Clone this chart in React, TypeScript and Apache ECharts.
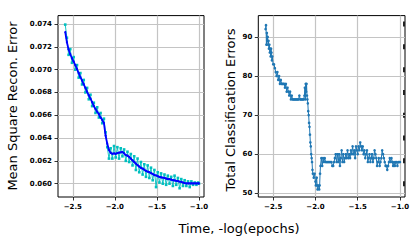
import React, { useEffect, useRef } from "react";
import * as echarts from "echarts";

const leftTime = [
  -2.59, -2.57, -2.55, -2.53, -2.51, -2.49, -2.47, -2.45, -2.43, -2.41,
  -2.39, -2.37, -2.35, -2.33, -2.31, -2.29, -2.27, -2.25, -2.23, -2.21,
  -2.19, -2.17, -2.15, -2.13, -2.11, -2.09, -2.07, -2.05, -2.03, -2.01,
  -1.99, -1.97, -1.95, -1.93, -1.91, -1.89, -1.87, -1.85, -1.83, -1.81,
  -1.79, -1.77, -1.75, -1.73, -1.71, -1.69, -1.67, -1.65, -1.63, -1.61,
  -1.59, -1.57, -1.55, -1.53, -1.51, -1.49, -1.47, -1.45, -1.43, -1.41,
  -1.39, -1.37, -1.35, -1.33, -1.31, -1.29, -1.27, -1.25, -1.23, -1.21,
  -1.19, -1.17, -1.15, -1.13, -1.11, -1.09, -1.07, -1.05, -1.03, -1.01, -1.0,
];

const reconSmooth = [
  0.0733, 0.0724, 0.07175, 0.07135, 0.071, 0.0707, 0.0704, 0.07005, 0.0697, 0.06935,
  0.06905, 0.0687, 0.0684, 0.06805, 0.06775, 0.06745, 0.06715, 0.0668, 0.06655, 0.0663,
  0.0661, 0.0658, 0.0656, 0.0653, 0.0642, 0.0635, 0.06295, 0.0627, 0.06262, 0.06265,
  0.06262, 0.06268, 0.06272, 0.06275, 0.06278, 0.06265, 0.0625, 0.06245, 0.06235, 0.0622,
  0.06205, 0.0619, 0.06175, 0.06162, 0.0615, 0.06138, 0.06132, 0.06122, 0.06112, 0.06105,
  0.061, 0.06092, 0.06085, 0.06075, 0.06072, 0.06065, 0.0606, 0.06055, 0.06053, 0.0605,
  0.06045, 0.0604, 0.0604, 0.06035, 0.0603, 0.06028, 0.06025, 0.06022, 0.06018, 0.06015,
  0.0601, 0.06005, 0.06003, 0.06002, 0.06002, 0.06002, 0.06002, 0.06002, 0.06002, 0.06002, 0.06002,
];

const reconRaw = [
  0.07395, 0.0728, 0.0713, 0.0718, 0.0706, 0.0711, 0.07, 0.0704, 0.0693, 0.0697,
  0.0687, 0.0691, 0.068, 0.0684, 0.0674, 0.0678, 0.0668, 0.0671, 0.0662, 0.0667,
  0.0658, 0.0662, 0.0653, 0.0657, 0.0645, 0.0632, 0.0622, 0.0631, 0.0622, 0.0633,
  0.0623, 0.0632, 0.0622, 0.0631, 0.0624, 0.063, 0.062, 0.0628, 0.0619, 0.0626,
  0.0616, 0.0624, 0.0612, 0.0622, 0.061, 0.0619, 0.0608, 0.0617, 0.0606, 0.0616,
  0.0605, 0.0614, 0.0603, 0.0612, 0.0597, 0.061, 0.0601, 0.0609, 0.06, 0.0608,
  0.0599, 0.0607, 0.06, 0.0606, 0.0598, 0.0607, 0.0599, 0.0605, 0.0596, 0.0604,
  0.0598, 0.0603, 0.0598, 0.0602, 0.0597, 0.0602, 0.0599, 0.0601, 0.0599, 0.0601, 0.06,
];

const rightTime = [
  -2.59, -2.585, -2.58, -2.575, -2.57, -2.565, -2.56, -2.555, -2.55, -2.545,
  -2.54, -2.535, -2.53, -2.525, -2.52, -2.515, -2.51, -2.5, -2.49, -2.48,
  -2.47, -2.46, -2.45, -2.44, -2.43, -2.42, -2.41, -2.4, -2.39, -2.38,
  -2.37, -2.36, -2.35, -2.34, -2.33, -2.32, -2.31, -2.3, -2.29, -2.28,
  -2.27, -2.26, -2.25, -2.24, -2.23, -2.22, -2.21, -2.2, -2.19, -2.18,
  -2.17, -2.16, -2.15, -2.14, -2.13, -2.125, -2.12, -2.115, -2.11, -2.105,
  -2.1, -2.095, -2.09, -2.085, -2.08, -2.075, -2.07, -2.065, -2.06, -2.055,
  -2.05, -2.045, -2.04, -2.035, -2.03, -2.02, -2.01, -2.0, -1.995, -1.985,
  -1.98, -1.975, -1.965, -1.955, -1.95, -1.945, -1.94, -1.93, -1.92, -1.91,
  -1.9, -1.89, -1.88, -1.87, -1.86, -1.85, -1.84, -1.83, -1.82, -1.81,
  -1.8, -1.79, -1.78, -1.77, -1.76, -1.75, -1.74, -1.73, -1.72, -1.71,
  -1.7, -1.69, -1.68, -1.67, -1.66, -1.65, -1.64, -1.63, -1.62, -1.61,
  -1.6, -1.59, -1.58, -1.57, -1.56, -1.55, -1.54, -1.53, -1.52, -1.51,
  -1.5, -1.49, -1.48, -1.47, -1.46, -1.45, -1.44, -1.43, -1.42, -1.41,
  -1.4, -1.39, -1.38, -1.37, -1.36, -1.35, -1.34, -1.33, -1.32, -1.31,
  -1.3, -1.29, -1.28, -1.27, -1.26, -1.25, -1.24, -1.23, -1.22, -1.21,
  -1.2, -1.19, -1.18, -1.17, -1.16, -1.15, -1.14, -1.13, -1.12, -1.11,
  -1.1, -1.09, -1.08, -1.07, -1.06, -1.05, -1.04, -1.03, -1.02, -1.01,
  -1.0,
];

const classErrors = [
  92, 93, 88, 91, 89, 90, 88, 89, 87, 88,
  86, 87, 85, 87, 86, 84, 85, 83, 83, 82,
  81, 80, 81, 79, 80, 78, 79, 78, 78, 78,
  78, 77, 78, 76, 77, 76, 75, 76, 74, 75,
  74, 74, 74, 74, 74, 74, 74, 74, 75, 74,
  74, 74, 74, 74, 75, 77, 74, 78, 76, 78,
  75, 74, 73, 71, 70, 68, 67, 65, 63, 62,
  60, 59, 58, 56, 55, 54, 55, 53, 52, 54,
  52, 51, 52, 51, 52, 55, 57, 59, 57, 59,
  58, 59, 58, 58, 58, 58, 58, 58, 58, 58,
  57, 57, 58, 59, 60, 58, 60, 58, 60, 57,
  59, 61, 58, 60, 58, 59, 60, 59, 61, 59,
  60, 59, 61, 60, 62, 60, 61, 59, 62, 61,
  60, 62, 61, 63, 62, 61, 62, 60, 61, 59,
  60, 61, 58, 59, 60, 58, 59, 60, 58, 59,
  61, 60, 59, 57, 58, 59, 57, 58, 59, 61,
  60, 59, 58, 57, 57, 56, 57, 58, 59, 58,
  59, 58, 57, 58, 57, 58, 58, 57, 58, 58,
  58,
];

const timeTicks = [-2.5, -2.0, -1.5, -1.0];
const reconTicks = [0.06, 0.062, 0.064, 0.066, 0.068, 0.07, 0.072, 0.074];
const errorTicks = [50, 60, 70, 80, 90];

const FONT = "DejaVu Sans";

const tickLabel = {
  fontFamily: FONT,
  fontSize: 7,
  fontWeight: "bold" as const,
  color: "#000",
};

function xAxis(gridIndex: number) {
  return {
    type: "value",
    gridIndex,
    min: -2.676,
    max: -0.94,
    axisLine: { show: false },
    axisTick: {
      show: true,
      length: 3.5,
      customValues: timeTicks,
      lineStyle: { color: "#000", width: 0.8 },
    },
    axisLabel: {
      ...tickLabel,
      margin: 6,
      customValues: timeTicks,
      formatter: (v: number) => v.toFixed(1).replace("-", "\u2212"),
    },
    splitLine: { show: true, lineStyle: { color: "#c4c4c4", width: 1.2 } },
  };
}

export default function App() {
  const ref = useRef<HTMLDivElement>(null);
  useEffect(() => {
    if (!ref.current) return;
    const chart = echarts.init(ref.current, undefined, { renderer: "svg" });
    const option: any = {
      animation: false,
      backgroundColor: "#fff",
      grid: [
        { left: 58, top: 15.6, width: 146, height: 181.4, show: true, borderColor: "#000", borderWidth: 1, backgroundColor: "transparent" },
        { left: 258.3, top: 15.6, width: 146.7, height: 181.4, show: true, borderColor: "#000", borderWidth: 1, backgroundColor: "transparent" },
      ],
      xAxis: [xAxis(0), xAxis(1)],
      yAxis: [
        {
          type: "value",
          gridIndex: 0,
          min: 0.05883,
          max: 0.07474,
          axisLine: { show: false },
          axisTick: { show: true, length: 3.5, customValues: reconTicks, lineStyle: { color: "#000", width: 0.8 } },
          axisLabel: { ...tickLabel, margin: 6, customValues: reconTicks, formatter: (v: number) => v.toFixed(3) },
          splitLine: { show: true, lineStyle: { color: "#c4c4c4", width: 1.2 } },
        },
        {
          type: "value",
          gridIndex: 1,
          min: 49.05,
          max: 95.45,
          axisLine: { show: false },
          axisTick: { show: true, length: 3.5, customValues: errorTicks, lineStyle: { color: "#000", width: 0.8 } },
          axisLabel: { ...tickLabel, margin: 6, customValues: errorTicks, formatter: (v: number) => String(v) },
          splitLine: { show: true, lineStyle: { color: "#c4c4c4", width: 1.2 } },
        },
      ],
      series: [
        {
          type: "line",
          xAxisIndex: 0,
          yAxisIndex: 0,
          data: leftTime.map((t, i) => [t, reconRaw[i]]),
          symbol: "rect",
          symbolSize: 2.6,
          showSymbol: true,
          itemStyle: { color: "#00bfbf" },
          lineStyle: { color: "#00bfbf", width: 0.9 },
          z: 2,
        },
        {
          type: "line",
          xAxisIndex: 0,
          yAxisIndex: 0,
          data: leftTime.map((t, i) => [t, reconSmooth[i]]),
          symbol: "circle",
          symbolSize: 2,
          showSymbol: true,
          itemStyle: { color: "#0000ff" },
          lineStyle: { color: "#0000ff", width: 1.8 },
          z: 3,
        },
        {
          type: "line",
          xAxisIndex: 1,
          yAxisIndex: 1,
          data: rightTime.map((t, i) => [t, classErrors[i]]),
          symbol: "circle",
          symbolSize: 2.6,
          showSymbol: true,
          itemStyle: { color: "#1f77b4" },
          lineStyle: { color: "#1f77b4", width: 1 },
          z: 3,
        },
      ],
      graphic: [
        {
          type: "text",
          x: 12.8,
          y: 106,
          rotation: Math.PI / 2,
          style: { text: "Mean Square Recon. Error", fontFamily: FONT, fontSize: 13, fill: "#000", align: "center", verticalAlign: "middle" },
        },
        {
          type: "text",
          x: 230,
          y: 110,
          rotation: Math.PI / 2,
          style: { text: "Total Classification Errors", fontFamily: FONT, fontSize: 13, fill: "#000", align: "center", verticalAlign: "middle" },
        },
        {
          type: "text",
          x: 239,
          y: 228,
          style: { text: "Time, -log(epochs)", fontFamily: FONT, fontSize: 13, fill: "#000", align: "center", verticalAlign: "middle" },
        },
      ],
    };
    chart.setOption(option);
    // clipped glyph fragments at right edge of the right panel
    const marks = reconTicks.map((v) => {
      const y = chart.convertToPixel({ yAxisIndex: 0 }, v) as number;
      return { type: "rect", shape: { x: 403, y: y - 2.5, width: 2, height: 5 }, style: { fill: "#222" } };
    });
    chart.setOption({ graphic: [...option.graphic, ...marks] });
    return () => chart.dispose();
  }, []);
  return <div ref={ref} style={{ position: "fixed", left: 0, top: 0, width: 415, height: 245 }} />;
}
